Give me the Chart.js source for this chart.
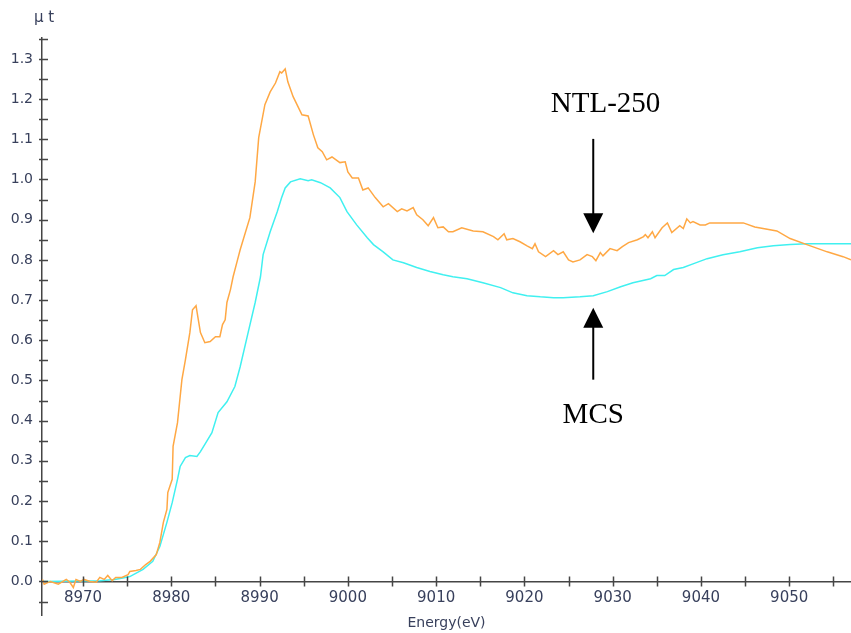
<!DOCTYPE html>
<html>
<head>
<meta charset="utf-8">
<script src="https://cdn.jsdelivr.net/npm/chart.js@4.4.1/dist/chart.umd.min.js"></script>
<style>
  html, body { margin: 0; padding: 0; background: #fff; }
  #wrap { width: 851px; height: 633px; }
</style>
</head>
<body>
<div id="wrap"><canvas id="xanes"></canvas></div>
<script>
// NTL-250 spectrum (orange)
const energyNTL = [8965.4, 8965.6, 8966.3, 8967.2, 8968.1, 8968.5, 8968.9, 8969.2, 8969.7, 8970.1,
  8970.8, 8971.5, 8971.9, 8972.4, 8972.8, 8973.3, 8973.7, 8974.4, 8975.1, 8975.3,
  8976.0, 8976.5, 8977.1, 8977.6, 8978.3, 8978.7, 8979.1, 8979.5, 8979.6, 8980.1,
  8980.2, 8980.7, 8981.2, 8981.6, 8982.1, 8982.4, 8982.8, 8983.0, 8983.3, 8983.8,
  8984.4, 8985.0, 8985.5, 8985.8, 8986.1, 8986.3, 8986.7, 8987.0, 8987.5, 8987.8,
  8988.9, 8989.5, 8989.9, 8990.6, 8991.2, 8991.8, 8992.3, 8992.5, 8992.9, 8993.2,
  8993.8, 8994.8, 8995.5, 8996.1, 8996.6, 8997.1, 8997.6, 8998.2, 8999.1, 8999.7,
  9000.0, 9000.5, 9001.2, 9001.7, 9002.3, 9003.1, 9004.0, 9004.6, 9005.6, 9006.1,
  9006.7, 9007.4, 9007.8, 9008.5, 9009.1, 9009.7, 9010.2, 9010.8, 9011.4, 9011.9,
  9012.9, 9014.2, 9015.3, 9016.5, 9017.0, 9017.7, 9018.0, 9018.7, 9019.5, 9020.3,
  9020.9, 9021.2, 9021.6, 9022.4, 9023.3, 9023.8, 9024.4, 9025.0, 9025.5, 9026.3,
  9027.1, 9027.7, 9028.1, 9028.6, 9028.9, 9029.7, 9030.5, 9031.1, 9031.8, 9032.8,
  9033.5, 9033.7, 9034.0, 9034.5, 9034.8, 9035.6, 9036.2, 9036.7, 9037.6, 9038.0,
  9038.4, 9038.8, 9039.1, 9039.9, 9040.5, 9041.0, 9044.8, 9046.1, 9048.6, 9050.1,
  9052.0, 9054.3, 9056.1, 9057.0];
const muNTL = [0.005, -0.007, 0.000, -0.007, 0.005, -0.002, -0.015, 0.005, 0.000, 0.005,
  0.000, -0.002, 0.010, 0.005, 0.015, 0.002, 0.010, 0.010, 0.017, 0.025,
  0.027, 0.030, 0.042, 0.050, 0.067, 0.097, 0.147, 0.179, 0.221, 0.254,
  0.336, 0.395, 0.502, 0.552, 0.619, 0.676, 0.686, 0.659, 0.619, 0.594,
  0.597, 0.609, 0.609, 0.639, 0.651, 0.694, 0.726, 0.758, 0.800, 0.825,
  0.905, 0.994, 1.104, 1.186, 1.218, 1.240, 1.268, 1.265, 1.275, 1.243,
  1.206, 1.161, 1.158, 1.111, 1.079, 1.069, 1.049, 1.056, 1.042, 1.044,
  1.019, 1.004, 1.004, 0.974, 0.979, 0.955, 0.932, 0.940, 0.920, 0.927,
  0.922, 0.930, 0.912, 0.900, 0.885, 0.905, 0.880, 0.882, 0.870, 0.870,
  0.880, 0.872, 0.870, 0.858, 0.850, 0.865, 0.850, 0.853, 0.845, 0.835,
  0.828, 0.840, 0.820, 0.808, 0.823, 0.813, 0.820, 0.800, 0.795, 0.800,
  0.813, 0.808, 0.798, 0.818, 0.810, 0.828, 0.823, 0.833, 0.843, 0.850,
  0.858, 0.863, 0.855, 0.870, 0.855, 0.880, 0.892, 0.868, 0.885, 0.878,
  0.902, 0.892, 0.895, 0.887, 0.887, 0.892, 0.892, 0.882, 0.872, 0.853,
  0.838, 0.820, 0.808, 0.800];

// MCS spectrum (cyan)
const energyMCS = [8965.4, 8971.9, 8973.6, 8974.8, 8975.3, 8976.8, 8977.9, 8978.7, 8979.5, 8980.1,
  8980.7, 8981.0, 8981.6, 8982.1, 8982.9, 8983.3, 8983.8, 8984.6, 8985.3, 8986.3,
  8987.2, 8987.8, 8988.7, 8989.5, 8990.1, 8990.4, 8991.2, 8992.0, 8992.5, 8992.9,
  8993.5, 8994.6, 8995.5, 8995.9, 8996.9, 8998.0, 8999.1, 8999.9, 9001.0, 9002.2,
  9002.9, 9004.0, 9005.1, 9006.3, 9007.8, 9009.3, 9010.8, 9011.9, 9013.5, 9015.3,
  9017.3, 9018.7, 9020.3, 9021.8, 9023.3, 9024.4, 9026.3, 9027.8, 9029.4, 9030.9,
  9032.3, 9034.3, 9035.0, 9035.9, 9036.9, 9038.0, 9039.1, 9040.7, 9042.5, 9044.4,
  9046.4, 9048.2, 9050.1, 9052.0, 9057.0];
const muMCS = [0.000, 0.002, 0.005, 0.010, 0.012, 0.030, 0.050, 0.087, 0.147, 0.196,
  0.254, 0.286, 0.308, 0.313, 0.311, 0.323, 0.341, 0.370, 0.420, 0.447,
  0.485, 0.534, 0.619, 0.694, 0.758, 0.813, 0.870, 0.920, 0.955, 0.979,
  0.994, 1.002, 0.997, 0.999, 0.992, 0.979, 0.955, 0.920, 0.887, 0.855,
  0.838, 0.820, 0.800, 0.793, 0.781, 0.771, 0.763, 0.758, 0.753, 0.743,
  0.731, 0.718, 0.711, 0.708, 0.706, 0.706, 0.708, 0.711, 0.721, 0.733,
  0.743, 0.753, 0.761, 0.761, 0.776, 0.781, 0.790, 0.803, 0.813, 0.820,
  0.830, 0.835, 0.838, 0.840, 0.840];

// labelled ticks
const xLabelTicks = [8970, 8980, 8990, 9000, 9010, 9020, 9030, 9040, 9050];
const yLabelTicks = [0.0, 0.1, 0.2, 0.3, 0.4, 0.5, 0.6, 0.7, 0.8, 0.9, 1.0, 1.1, 1.2, 1.3];

const AXIS_COLOR = '#454545';
const TEXT_COLOR = '#38405c';

function toPoints(xs, ys) {
  return xs.map((x, i) => ({ x: x, y: ys[i] }));
}

// tick marks crossing the axes, the "μ t" label and the two arrows
const decor = {
  id: 'decor',
  afterDraw(chart) {
    const { ctx, scales: { x, y } } = chart;
    const y0 = y.getPixelForValue(0);
    const ax = y.right;
    ctx.save();
    ctx.strokeStyle = AXIS_COLOR;
    ctx.lineWidth = 1.5;
    ctx.beginPath();
    x.ticks.forEach(t => {
      const px = Math.round(x.getPixelForValue(t.value)) + 0.5;
      ctx.moveTo(px, y0 - 5);
      ctx.lineTo(px, y0 + 5);
    });
    y.ticks.forEach(t => {
      const py = Math.round(y.getPixelForValue(t.value)) + 0.5;
      ctx.moveTo(ax - 3, py);
      ctx.lineTo(ax + 6, py);
    });
    ctx.stroke();

    ctx.fillStyle = TEXT_COLOR;
    ctx.font = '15px "DejaVu Sans"';
    ctx.textAlign = 'center';
    ctx.textBaseline = 'middle';
    ctx.fillText('\u03bc t', ax + 2, 18);

    // annotations
    const arrow = (xv, yFrom, yTo) => {
      const px = x.getPixelForValue(xv);
      const p1 = y.getPixelForValue(yFrom);
      const p2 = y.getPixelForValue(yTo);
      const dir = p2 > p1 ? 1 : -1;
      ctx.strokeStyle = '#000';
      ctx.fillStyle = '#000';
      ctx.lineWidth = 2;
      ctx.beginPath();
      ctx.moveTo(px, p1);
      ctx.lineTo(px, p2 - dir * 18);
      ctx.stroke();
      ctx.beginPath();
      ctx.moveTo(px, p2);
      ctx.lineTo(px - 10, p2 - dir * 20);
      ctx.lineTo(px + 10, p2 - dir * 20);
      ctx.closePath();
      ctx.fill();
    };
    arrow(9027.8, 1.101, 0.866);
    arrow(9027.8, 0.502, 0.681);

    ctx.fillStyle = '#000';
    ctx.font = '29px "Liberation Serif"';
    ctx.textAlign = 'center';
    ctx.textBaseline = 'alphabetic';
    ctx.fillText('NTL-250', x.getPixelForValue(9029.2), y.getPixelForValue(1.168));
    ctx.fillText('MCS', x.getPixelForValue(9027.8), y.getPixelForValue(0.395));
    ctx.restore();
  }
};

new Chart(document.getElementById('xanes'), {
  type: 'line',
  data: {
    datasets: [
      {
        label: 'NTL-250',
        data: toPoints(energyNTL, muNTL),
        borderColor: '#ffa844',
        borderWidth: 1.5,
        pointRadius: 0,
        tension: 0
      },
      {
        label: 'MCS',
        data: toPoints(energyMCS, muMCS),
        borderColor: '#40f0f0',
        borderWidth: 1.5,
        pointRadius: 0,
        tension: 0
      }
    ]
  },
  options: {
    responsive: true,
    maintainAspectRatio: false,
    animation: false,
    layout: { padding: { left: 0, right: 0, top: 38, bottom: 17 } },
    plugins: { legend: { display: false }, tooltip: { enabled: false } },
    scales: {
      x: {
        type: 'linear',
        position: { y: 0 },
        min: 8965.35,
        max: 9057.0,
        grid: { display: false, drawTicks: false },
        border: { display: true, color: AXIS_COLOR, width: 1.5 },
        ticks: {
          stepSize: 5,
          includeBounds: false,
          autoSkip: false,
          maxRotation: 0,
          padding: 8,
          color: TEXT_COLOR,
          font: { family: 'DejaVu Sans', size: 15 },
          callback: v => xLabelTicks.includes(v) ? String(v) : ''
        },
        title: {
          display: true,
          text: 'Energy(eV)',
          color: TEXT_COLOR,
          font: { family: 'DejaVu Sans', size: 14 },
          padding: { top: 0, bottom: 1 }
        }
      },
      y: {
        type: 'linear',
        min: -0.085,
        max: 1.352,
        afterFit: s => { s.width = 42; },
        grid: { display: false, drawTicks: false },
        border: { display: true, color: AXIS_COLOR, width: 1.5 },
        ticks: {
          stepSize: 0.05,
          includeBounds: false,
          autoSkip: false,
          padding: 9,
          color: TEXT_COLOR,
          font: { family: 'DejaVu Sans', size: 14 },
          callback: v => {
            const r = Math.round(v * 100) / 100;
            return yLabelTicks.some(t => Math.abs(t - r) < 1e-9) ? r.toFixed(1) : '';
          }
        }
      }
    }
  },
  plugins: [decor]
});
</script>
</body>
</html>
